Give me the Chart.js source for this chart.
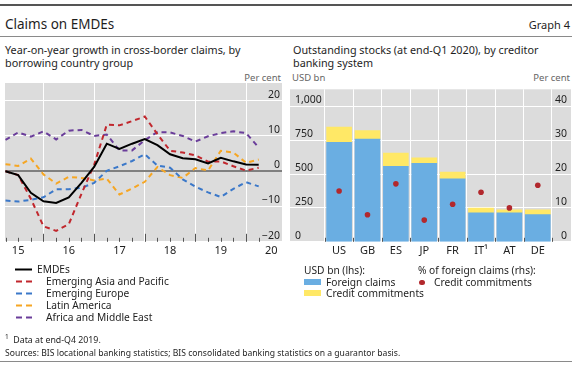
<!DOCTYPE html>
<html>
<head>
<meta charset="utf-8">
<script src="https://cdn.jsdelivr.net/npm/chart.js@4.4.1/dist/chart.umd.min.js"></script>
<style>
  body { margin: 0; background: #fff; font-family: "Noto Sans", sans-serif; color: #1e1e1e; }
  #wrap { position: relative; width: 575px; height: 365px; overflow: hidden; }
  .t { position: absolute; white-space: nowrap; line-height: 14px; }
  .rule { position: absolute; left: 0; width: 572px; }
  canvas { position: absolute; }
  .sw { position: absolute; }
</style>
</head>
<body>
<div id="wrap">
  <div class="rule" style="top:4px;height:2px;background:#555"></div>
  <div class="t" style="left:5px;top:17px;font-size:13.5px">Claims on EMDEs</div>
  <div class="t" style="right:5px;top:18px;font-size:11px">Graph 4</div>
  <div class="rule" style="top:36px;height:1px;background:#8a8a8a"></div>

  <div class="t" style="left:5px;top:43px;font-size:10.8px;line-height:13px">Year-on-year growth in cross-border claims, by<br>borrowing country group</div>
  <div class="t" style="left:293px;top:43px;font-size:10.8px;line-height:13px">Outstanding stocks (at end-Q1 2020), by creditor<br>banking system</div>

  <div class="t" style="right:294px;top:71px;font-size:9.5px;color:#666">Per cent</div>
  <div class="t" style="left:292px;top:71px;font-size:9.5px;color:#666">USD bn</div>
  <div class="t" style="right:5px;top:71px;font-size:9.5px;color:#666">Per cent</div>

  <canvas id="growth" width="290" height="188" style="left:0;top:78px"></canvas>
  <canvas id="stocks" width="290" height="188" style="left:285px;top:78px"></canvas>

  <!-- left legend -->
  <svg class="sw" style="left:0;top:260px" width="40" height="65">
    <line x1="15" y1="9.5" x2="32" y2="9.5" stroke="#000" stroke-width="2"/>
    <line x1="16" y1="21.5" x2="32" y2="21.5" stroke="#c1272d" stroke-width="2" stroke-dasharray="6,4"/>
    <line x1="16" y1="33.5" x2="32" y2="33.5" stroke="#3b78c9" stroke-width="2" stroke-dasharray="6,4"/>
    <line x1="16" y1="45.5" x2="32" y2="45.5" stroke="#f6a623" stroke-width="2" stroke-dasharray="6,4"/>
    <line x1="16" y1="57.5" x2="32" y2="57.5" stroke="#6a3d9a" stroke-width="2" stroke-dasharray="6,4"/>
  </svg>
  <div class="t" style="left:37px;top:262px;font-size:10.2px">EMDEs</div>
  <div class="t" style="left:46px;top:274px;font-size:10.2px">Emerging Asia and Pacific</div>
  <div class="t" style="left:46px;top:286px;font-size:10.2px">Emerging Europe</div>
  <div class="t" style="left:46px;top:298px;font-size:10.2px">Latin America</div>
  <div class="t" style="left:46px;top:310px;font-size:10.2px">Africa and Middle East</div>

  <!-- right legend -->
  <div class="t" style="left:304px;top:263px;font-size:10.2px">USD bn (lhs):</div>
  <div class="sw" style="left:304px;top:279px;width:17px;height:6px;background:#6aaee2"></div>
  <div class="t" style="left:326px;top:275px;font-size:10.2px">Foreign claims</div>
  <div class="sw" style="left:304px;top:290px;width:17px;height:6px;background:#ffe866"></div>
  <div class="t" style="left:326px;top:286px;font-size:10.2px">Credit commitments</div>
  <div class="t" style="left:418px;top:263px;font-size:10.2px">% of foreign claims (rhs):</div>
  <div class="sw" style="left:419px;top:279.5px;width:5.5px;height:5.5px;border-radius:50%;background:#b2282d"></div>
  <div class="t" style="left:434px;top:275px;font-size:10.2px">Credit commitments</div>

  <div class="t" style="left:5px;top:330px;font-size:8.8px"><sup style="font-size:6.5px">1</sup>&nbsp; Data at end-Q4 2019.</div>
  <div class="t" style="left:5px;top:346px;font-size:8.6px">Sources: BIS locational banking statistics; BIS consolidated banking statistics on a guarantor basis.</div>
  <div class="rule" style="top:361px;height:1px;background:#8a8a8a"></div>
</div>

<script>
// Left panel: year-on-year growth, per cent (quarterly)
const quarters = ['2015-Q1','2015-Q2','2015-Q3','2015-Q4','2016-Q1','2016-Q2','2016-Q3','2016-Q4',
                  '2017-Q1','2017-Q2','2017-Q3','2017-Q4','2018-Q1','2018-Q2','2018-Q3','2018-Q4',
                  '2019-Q1','2019-Q2','2019-Q3','2019-Q4','2020-Q1'];
const emdes            = [0, -1.1, -6.1, -8.5, -9.0, -7.4, -3.3, 1.2, 7.8, 6.3, 7.8, 9.1, 7.4, 4.8, 3.7, 3.4, 2.2, 3.8, 2.8, 1.9, 1.8];
const asiaPacific      = [0, -1.1, -7.8, -15.6, -16.9, -15.0, -6.4, 1.8, 13.2, 13.0, 14.2, 15.5, 10.5, 5.8, 5.3, 4.5, 2.7, 2.8, 1.4, 0.2, 1.0];
const emergingEurope   = [-8.3, -8.6, -8.1, -7.4, -5.1, -5.1, -4.7, -3.3, 0.1, 1.4, 2.9, 4.8, 1.6, 1.0, -2.3, -4.4, -6.0, -7.3, -5.0, -3.1, -4.3];
const latinAmerica     = [2.0, 1.5, 3.6, -0.9, -3.5, -1.6, -1.9, -2.6, -2.1, -6.6, -4.9, -3.0, 1.2, -1.1, -1.9, 0.9, 0.2, 5.8, 5.3, 2.4, 3.3];
const africaMiddleEast = [8.9, 11.0, 9.8, 11.3, 9.0, 11.5, 11.7, 10.0, 10.4, 5.9, 5.9, 8.8, 11.1, 11.0, 10.0, 8.4, 9.9, 10.8, 11.3, 10.8, 6.7];
const years = [2015, 2016, 2017, 2018, 2019, 2020];
const yearLabels = ['15', '16', '17', '18', '19', '20'];

// Right panel: outstanding stocks at end-Q1 2020
const creditors = ['US', 'GB', 'ES', 'JP', 'FR', 'IT\u00B9', 'AT', 'DE'];
const foreignClaims = [733, 757, 557, 579, 464, 214, 214, 200];       // USD bn
const creditCommitments = [113, 64, 98, 40, 50, 34, 22, 36];          // USD bn
const commitmentShare = [15.0, 8.0, 17.1, 6.4, 11.1, 14.6, 10.0, 16.7]; // % of foreign claims

const FONT = '"Noto Sans", sans-serif';
Chart.defaults.font.family = FONT;
Chart.defaults.color = '#222';

const qx = quarters.map(q => +q.slice(0, 4) + (+q.slice(-1)) / 4);
const pts = arr => arr.map((v, i) => ({ x: qx[i], y: v }));
const minus = v => (v < 0 ? '\u2212' + Math.abs(v) : String(v));
const noWidth = s => { s.width = 0; };   // mirrored labels sit inside the panel

// grey panel behind plot and mirrored axis labels
const panelBg = {
  id: 'panelBg',
  beforeDraw(chart) {
    const { ctx, chartArea: a } = chart;
    ctx.save();
    ctx.fillStyle = '#dcdcdc';
    ctx.fillRect(a.left, a.top, a.right - a.left, a.bottom - a.top);
    ctx.restore();
  }
};

// small tick marks pointing up from the bottom of the plot
const tickMarks = {
  id: 'tickMarks',
  afterDraw(chart, args, opts) {
    const { ctx, chartArea: a } = chart;
    const sx = chart.scales.x;
    ctx.save();
    ctx.strokeStyle = '#555';
    ctx.lineWidth = 1;
    opts.values.forEach(v => {
      const px = Math.round(sx.getPixelForValue(v)) + 0.5;
      const len = opts.isMajor(v) ? 8 : 4;
      ctx.beginPath();
      ctx.moveTo(px, a.bottom);
      ctx.lineTo(px, a.bottom - len);
      ctx.stroke();
    });
    ctx.restore();
  }
};

const dashed = (label, data, color) => ({
  label, data: pts(data), borderColor: color, borderWidth: 2, borderDash: [5, 4],
  pointRadius: 0, tension: 0, fill: false
});

new Chart(document.getElementById('growth'), {
  type: 'line',
  data: {
    datasets: [
      { label: 'EMDEs', data: pts(emdes), borderColor: '#000', borderWidth: 2, pointRadius: 0, tension: 0, fill: false },
      dashed('Emerging Asia and Pacific', asiaPacific, '#c1272d'),
      dashed('Emerging Europe', emergingEurope, '#3b78c9'),
      dashed('Latin America', latinAmerica, '#f6a623'),
      dashed('Africa and Middle East', africaMiddleEast, '#6a3d9a')
    ]
  },
  options: {
    responsive: false, animation: false,
    layout: { padding: { left: 5, right: 8, top: 5, bottom: 7 } },
    plugins: {
      legend: { display: false }, tooltip: { enabled: false },
      tickMarks: { values: qx, isMajor: v => Math.abs(v - Math.round(v)) < 1e-6 }
    },
    scales: {
      x: {
        type: 'linear', min: 2015.24, max: 2020.71,
        afterBuildTicks: axis => {
          const t = [];
          years.forEach(y => { if (y > 2015) t.push({ value: y }); t.push({ value: y + 0.5 }); });
          axis.ticks = t;
        },
        ticks: {
          autoSkip: false, maxRotation: 0, padding: 2, font: { size: 11 }, color: '#222',
          callback: v => (v % 1 === 0.5 ? yearLabels[years.indexOf(Math.floor(v))] : '')
        },
        grid: {
          drawTicks: false, lineWidth: 1,
          color: c => (c.tick && c.tick.value % 1 === 0 ? '#ffffff' : 'rgba(0,0,0,0)')
        },
        border: { display: false }
      },
      y: {
        position: 'right', min: -20, max: 25, afterFit: noWidth,
        afterBuildTicks: axis => { axis.ticks = [-20, -10, 0, 10, 20].map(v => ({ value: v })); },
        ticks: { mirror: true, padding: -2, labelOffset: -6, font: { size: 10.5 }, color: '#222', callback: minus },
        grid: {
          drawTicks: false,
          color: c => (c.tick && c.tick.value === 0 ? '#808080' : '#ffffff'),
          lineWidth: c => (c.tick && c.tick.value === 0 ? 2 : 1)
        },
        border: { display: false }
      }
    }
  },
  plugins: [panelBg, tickMarks]
});

const idx = creditors.map((c, i) => i);
const gaps = [-0.5].concat(idx.map(i => i + 0.5));

new Chart(document.getElementById('stocks'), {
  type: 'bar',
  data: {
    datasets: [
      {
        type: 'line', label: 'Credit commitments (% of foreign claims)', yAxisID: 'y1',
        data: commitmentShare.map((v, i) => ({ x: i, y: v })), showLine: false,
        pointRadius: 2.8, pointBackgroundColor: '#b2282d', pointBorderWidth: 0
      },
      {
        label: 'Foreign claims', data: foreignClaims.map((v, i) => ({ x: i, y: v })),
        backgroundColor: '#6aaee2', barThickness: 25, grouped: false
      },
      {
        label: 'Credit commitments',
        data: creditCommitments.map((v, i) => ({ x: i, y: [foreignClaims[i], foreignClaims[i] + v] })),
        backgroundColor: '#ffe866', barThickness: 25, grouped: false
      }
    ]
  },
  options: {
    responsive: false, animation: false,
    layout: { padding: { left: 5, right: 3, top: 5, bottom: 7 } },
    plugins: {
      legend: { display: false }, tooltip: { enabled: false },
      tickMarks: { values: gaps, isMajor: () => false }
    },
    scales: {
      x: {
        type: 'linear', min: -1.73, max: 8.17, offset: false,
        afterBuildTicks: axis => {
          const t = [];
          gaps.forEach(g => t.push({ value: g }));
          idx.forEach(i => t.push({ value: i }));
          axis.ticks = t.sort((a, b) => a.value - b.value);
        },
        ticks: {
          autoSkip: false, maxRotation: 0, padding: 2, font: { size: 11 }, color: '#222',
          callback: v => (Number.isInteger(v) ? creditors[v] : '')
        },
        grid: {
          offset: false, drawTicks: false,
          color: c => (c.tick && !Number.isInteger(c.tick.value) ? '#ffffff' : 'rgba(0,0,0,0)')
        },
        border: { display: false }
      },
      y: {
        position: 'left', min: 0, max: 1125, afterFit: noWidth,
        afterBuildTicks: axis => { axis.ticks = [0, 250, 500, 750, 1000].map(v => ({ value: v })); },
        ticks: { mirror: true, padding: 5, labelOffset: -6, font: { size: 10.5 }, color: '#222',
                 callback: v => v.toLocaleString('en-US') },
        grid: { drawTicks: false, color: '#ffffff' },
        border: { display: false }
      },
      y1: {
        position: 'right', min: 0, max: 45, afterFit: noWidth,
        afterBuildTicks: axis => { axis.ticks = [0, 10, 20, 30, 40].map(v => ({ value: v })); },
        ticks: { mirror: true, padding: -4, labelOffset: -6, font: { size: 10.5 }, color: '#222' },
        grid: { display: false, drawTicks: false },
        border: { display: false }
      }
    }
  },
  plugins: [panelBg, tickMarks]
});
</script>
</body>
</html>
